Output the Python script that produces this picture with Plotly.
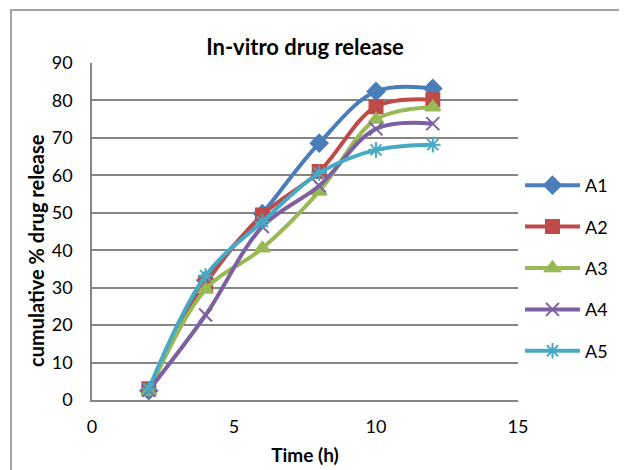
import plotly.graph_objects as go

time_h = [2, 4, 6, 8, 10, 12]
A1 = [2.5, 32.0, 49.8, 68.6, 82.4, 83.2]
A2 = [3.0, 31.0, 49.4, 61.0, 78.3, 80.2]
A3 = [2.2, 29.5, 40.5, 55.7, 74.9, 78.2]
A4 = [2.6, 22.7, 46.3, 57.2, 72.4, 73.8]
A5 = [3.0, 33.2, 47.6, 60.6, 66.8, 68.2]

series = [
    ("A1", A1, "#4A7EBB", "diamond", 13),
    ("A2", A2, "#BE4B48", "square", 13),
    ("A3", A3, "#98B954", "triangle-up", 13),
    ("A4", A4, "#7D60A0", "x-thin-open", 13),
    ("A5", A5, "#46AAC5", "asterisk-open", 13),
]

FONT = "Lato, Open Sans, sans-serif"

fig = go.Figure()
for i, (name, vals, color, sym, sz) in enumerate(series):
    fig.add_trace(go.Scatter(
        x=time_h, y=vals, name=name, mode="lines+markers",
        line=dict(color=color, width=4, shape="spline", smoothing=1.0),
        marker=dict(symbol=sym, size=sz, color=color,
                    line=dict(color=color, width=2)),
        legendgroup=name,
    ))

# page body has an 8px margin; work in page pixels and offset
OFF = 8
W, H = 627 - OFF, 470 - OFF
L, R, T, B = 92 - OFF, 518 - OFF, 63 - OFF, 400 - OFF

def fx(px):
    return (px - OFF - L) / (R - L)

def fy(py):
    return (B - (py - OFF)) / (B - T)

fig.update_layout(
    width=W, height=H,
    margin=dict(l=L, r=W - R, t=T, b=H - B, autoexpand=False),
    paper_bgcolor="white", plot_bgcolor="white",
    font=dict(family=FONT, size=18, color="black"),
    title=dict(text="<b>In-vitro drug release</b>", x=0.5, xref="paper",
               xanchor="center", y=1 - (47 - OFF) / H, yanchor="middle",
               font=dict(size=22, family=FONT)),
    xaxis=dict(range=[0, 15], dtick=5, showgrid=False, zeroline=False,
               showline=True, linecolor="#868686", linewidth=1.5,
               ticks="", tickfont=dict(size=18), ticklabelstandoff=10,
               automargin=False,
               title=dict(text="<b>Time (h)</b>", font=dict(size=19), standoff=12)),
    yaxis=dict(range=[0, 90], dtick=10, showgrid=True, gridcolor="#868686",
               gridwidth=1.5, zeroline=False, showline=True,
               linecolor="#868686", linewidth=1.5, ticks="",
               tickfont=dict(size=18), ticklabelstandoff=14,
               automargin=False),
    annotations=[dict(text="<b>cumulative % drug release</b>", textangle=-90,
                      xref="paper", yref="paper", x=fx(36), y=fy(251),
                      xanchor="center", yanchor="middle", showarrow=False,
                      font=dict(size=20, family=FONT, color="black"))],
    legend=dict(x=fx(520), y=fy(167), xanchor="left", yanchor="top",
                font=dict(size=18), tracegroupgap=15, itemwidth=55,
                bgcolor="rgba(0,0,0,0)"),
    shapes=[dict(type="rect", xref="paper", yref="paper",
                 x0=fx(11), x1=fx(700), y0=fy(520), y1=fy(10),
                 line=dict(color="#868686", width=1.5), layer="below")],
)

fig.write_html("out.html")
